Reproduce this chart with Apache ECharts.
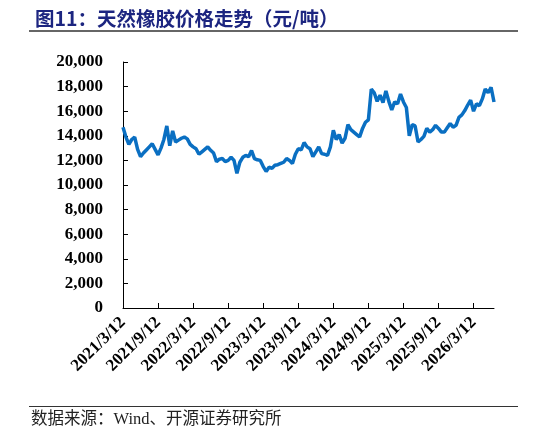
<!DOCTYPE html>
<html>
<head>
<meta charset="utf-8">
<script src="https://cdn.jsdelivr.net/npm/echarts@6/dist/echarts.min.js"></script>
<style>
  html, body { margin: 0; padding: 0; background: #fff; }
  #chart { width: 546px; height: 436px; }
</style>
</head>
<body>
<div id="chart"></div>
<script>
// semi-monthly dates, 2021/3/12 .. 2026/6/27
const dates = []
for (let y = 2021; y <= 2026; y++) {
  for (let m = 1; m <= 12; m++) {
    if (y === 2021 && m < 3) continue
    if (y === 2026 && m > 6) continue
    dates.push(y + '/' + m + '/12')
    dates.push(y + '/' + m + '/27')
  }
}

// 天然橡胶价格（元/吨）
const price = [
  14700, 13900, 13300, 13700, 13900, 12900, 12300, 12600, 12850, 13100,
  13350, 12900, 12450, 13000, 13700, 14800, 13200, 14400, 13500, 13650,
  13800, 13900, 13750, 13300, 13100, 12950, 12500, 12700, 12900, 13100,
  12820, 12600, 11900, 12100, 12150, 11900, 12000, 12250, 12000, 10950,
  11850, 12250, 12400, 12300, 12800, 12150, 12050, 12000, 11500, 11100,
  11450, 11350, 11600, 11650, 11750, 11850, 12150, 12000, 11750, 12500,
  12950, 12850, 13450, 13100, 12950, 12300, 12700, 13100, 12550, 12500,
  12400, 13100, 14450, 13700, 14100, 13400, 13800, 14900, 14500, 14300,
  14100, 13900, 14600, 15100, 15300, 17800, 17500, 16800, 17300, 16700,
  17650, 16800, 16100, 16750, 16600, 17400, 16750, 16300, 14000, 14900,
  14800, 13500, 13700, 13950, 14600, 14300, 14500, 14850, 14600, 14300,
  14300, 14650, 15000, 14700, 14850, 15500, 15700, 16050, 16500, 16900,
  16000, 16600, 16450, 17000, 17800, 17500, 17950, 16750
]

const labelDates = ['2021/3/12', '2021/9/12', '2022/3/12', '2022/9/12', '2023/3/12',
  '2023/9/12', '2024/3/12', '2024/9/12', '2025/3/12', '2025/9/12', '2026/3/12']

const chart = echarts.init(document.getElementById('chart'))
const serif = '"Liberation Serif", "Times New Roman", serif'
const showLabel = (idx, val) => labelDates.indexOf(val) !== -1

chart.setOption({
  animation: false,
  title: {
    text: '图11：天然橡胶价格走势（元/吨）',
    left: 30,
    top: 4,
    textStyle: {
      color: '#1c2580',
      fontSize: 19.5,
      fontWeight: 'bold',
      fontFamily: '"Noto Sans CJK SC", sans-serif'
    }
  },
  graphic: [
    { type: 'line', shape: { x1: 29, y1: 31, x2: 518, y2: 31 }, style: { stroke: '#333', lineWidth: 1.5 } },
    { type: 'line', shape: { x1: 29, y1: 406.5, x2: 518, y2: 406.5 }, style: { stroke: '#333', lineWidth: 1.2 } },
    {
      type: 'text', left: 31, top: 411,
      style: {
        text: '数据来源：Wind、开源证券研究所',
        fill: '#222',
        font: '16.5px "Liberation Serif", "Noto Sans CJK SC", serif'
      }
    }
  ],
  grid: { left: 123, right: 52, top: 62, bottom: 128, containLabel: false },
  xAxis: {
    type: 'category',
    data: dates,
    boundaryGap: false,
    axisLine: { lineStyle: { color: '#000', width: 1 } },
    axisTick: { inside: true, length: 5, interval: showLabel, lineStyle: { color: '#000' } },
    axisLabel: {
      interval: showLabel,
      rotate: 45,
      margin: 12,
      color: '#000',
      fontSize: 17,
      fontWeight: 'bold',
      fontFamily: serif
    },
    splitLine: { show: false }
  },
  yAxis: {
    type: 'value',
    min: 0,
    max: 20000,
    interval: 2000,
    axisLine: { show: true, lineStyle: { color: '#000', width: 1 } },
    axisTick: { show: true, inside: true, length: 5, lineStyle: { color: '#000' } },
    axisLabel: {
      margin: 20,
      color: '#000',
      fontSize: 17,
      fontWeight: 'bold',
      fontFamily: serif,
      formatter: v => v.toLocaleString('en-US')
    },
    splitLine: { show: false }
  },
  series: [
    {
      name: '天然橡胶',
      type: 'line',
      data: price,
      symbol: 'none',
      lineStyle: { color: '#0a6fc2', width: 3.5 }
    }
  ]
})
</script>
</body>
</html>
